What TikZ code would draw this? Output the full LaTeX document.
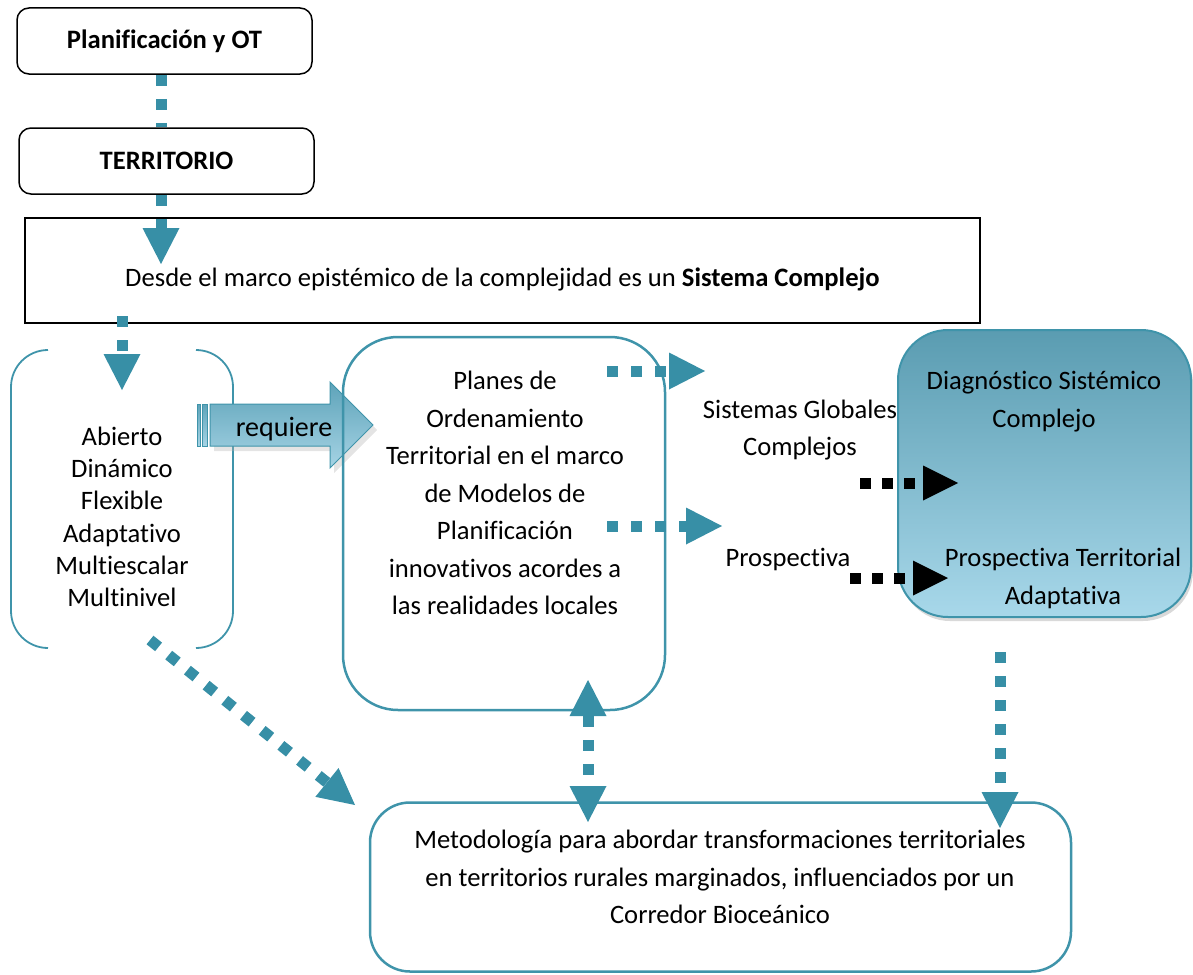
\documentclass[tikz,border=0pt]{standalone}
\usepackage{fontspec}
\setmainfont{Carlito}[Ligatures=NoCommon]
\usetikzlibrary{arrows.meta,shadows}
\definecolor{teal1}{HTML}{378FA6}
\definecolor{tealb}{HTML}{3F94AA}
\definecolor{diagtop}{HTML}{5A9CB1}
\definecolor{diagbot}{HTML}{A8D8EA}
\definecolor{reqtop}{HTML}{5EA3B9}
\definecolor{reqbot}{HTML}{A6D4E5}
\begin{document}
\begin{tikzpicture}[x=1pt,y=-1pt,font=\fontsize{26.6}{37.5}\selectfont,
  blackbox/.style={draw=black,line width=1.5pt,rounded corners=12pt,minimum width=295pt,minimum height=66pt,inner sep=0pt,font=\fontsize{26.6}{32}\selectfont\bfseries},
  tealbox/.style={draw=tealb,line width=2.5pt,inner sep=0pt},
  tdot/.style={draw=teal1,line width=11pt,dash pattern=on 11pt off 13pt},
  thead/.style={-{Triangle[length=36pt,width=37pt,line width=0pt]}},
  dhead/.style={{Triangle[length=36pt,width=37pt,line width=0pt]}-{Triangle[length=36pt,width=37pt,line width=0pt]}},
  bdot/.style={draw=black,line width=11pt,dash pattern=on 11pt off 11pt,-{Triangle[length=35pt,width=35pt,line width=0pt]}},
  lbl/.style={align=center,inner sep=0pt},
  bracket/.style={draw=tealb,line width=1.8pt,rounded corners=37pt}]
\useasboundingbox (0,0) rectangle (1193,974);

% boxes
\node[blackbox] (plan) at (164.5,41) {Planificación y OT};
\node[blackbox] (terr) at (166.5,161) {TERRITORIO};
\node[draw=black,line width=1.5pt,minimum width=955pt,minimum height=105pt,inner sep=0pt] (desde) at (502.5,270.5) {};
\node[lbl] (desdet) at (502.5,279) {Desde el marco epistémico de la complejidad es un \textbf{Sistema Complejo}};

% bracket group
\draw[bracket] (48,350) -- (11,350) -- (11,648) -- (48,648);
\draw[bracket] (196,350) -- (233,350) -- (233,648) -- (196,648);
\node[lbl,font=\fontsize{26.6}{32.3}\selectfont] (abierto) at (122,517) {Abierto\\Dinámico\\Flexible\\Adaptativo\\Multiescalar\\Multinivel};

% requiere arrow
\fill[gray!60,opacity=0.35] (214,409) -- (334,409) -- (334,387) -- (377,430) -- (334,473) -- (334,451) -- (214,451) -- cycle;
\shade[top color=reqtop,bottom color=reqbot,draw=tealb,line width=1pt] (210,404) -- (330,404) -- (330,382) -- (373,425) -- (330,468) -- (330,446) -- (210,446) -- cycle;
\shade[top color=reqtop,bottom color=reqbot,draw=tealb,line width=0.6pt] (197,404) rectangle (200,446);
\shade[top color=reqtop,bottom color=reqbot,draw=tealb,line width=0.6pt] (202,404) rectangle (207,446);
\node[lbl,font=\fontsize{28}{30}\selectfont] (req) at (284,429) {requiere};

% planes box
\node[tealbox,rounded corners=55pt,minimum width=322pt,minimum height=373pt] (planes) at (504,523.5) {};
\node[lbl] (planest) at (505,493) {Planes de\\Ordenamiento\\Territorial en el marco\\de Modelos de\\Planificación\\innovativos acordes a\\las realidades locales};

% middle labels
\node[lbl,font=\fontsize{26.6}{37}\selectfont] (sgc) at (800,430) {Sistemas Globales\\Complejos};
\node[lbl] (prosp) at (788,559) {Prospectiva};

% right box
\node[draw=tealb,line width=2pt,rounded corners=50pt,minimum width=293pt,minimum height=287pt,inner sep=0pt,top color=diagtop,bottom color=diagbot,drop shadow={opacity=0.3,shadow xshift=2pt,shadow yshift=-4pt}] (diag) at (1044.5,473.5) {};
\node[lbl,font=\fontsize{26.6}{38}\selectfont] (diagt1) at (1044,402) {Diagnóstico Sistémico\\Complejo};
\node[lbl,font=\fontsize{26.6}{38}\selectfont] (diagt2) at (1063,578) {Prospectiva Territorial\\Adaptativa};

% bottom box
\node[tealbox,rounded corners=40pt,minimum width=701pt,minimum height=169pt] (metod) at (720.5,887) {};
\node[lbl] (metodt) at (720,877) {Metodología para abordar transformaciones territoriales\\en territorios rurales marginados, influenciados por un\\Corredor Bioceánico};

% connector end points
\coordinate (tA) at (161,264);
\coordinate (sB) at (122,316);
\coordinate (tB) at (122,390);
\coordinate (sC) at (150,640);
\coordinate (tC) at (355,805);
\coordinate (sD) at (607,371);
\coordinate (tD) at (705,371);
\coordinate (sE) at (607,526);
\coordinate (tE) at (722,526);
\coordinate (sF) at (860,483);
\coordinate (tF) at (958,483);
\coordinate (sG) at (850,578);
\coordinate (tG) at (948,578);
\coordinate (sH) at (1000,652);
\coordinate (tH) at (1000,828);
\coordinate (tI1) at (588,680);
\coordinate (tI2) at (588,822);

% connectors
\draw[tdot] (plan.south -| 161,0) -- (terr.north -| 161,0);
\draw[tdot,thead] (terr.south -| 161,0) -- (tA);
\draw[tdot,thead] (sB) -- (tB);
\draw[tdot,thead] (sC) -- (tC);
\draw[tdot,thead] (sD) -- (tD);
\draw[tdot,thead] (sE) -- (tE);
\draw[bdot] (sF) -- (tF);
\draw[bdot] (sG) -- (tG);
\draw[tdot,thead] (sH) -- (tH);
\draw[tdot,dhead] (tI1) -- (tI2);
\end{tikzpicture}
\end{document}
